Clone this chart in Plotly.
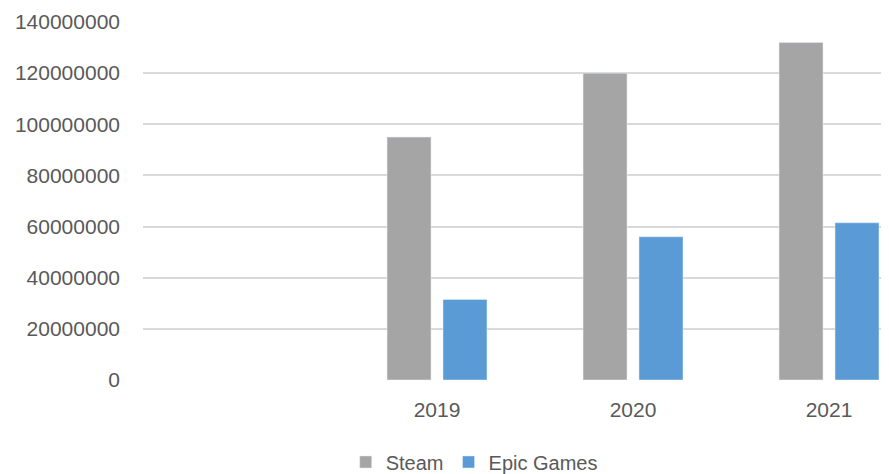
import plotly.graph_objects as go

categories = ["", "2019", "2020", "2021"]
steam = [None, 95000000, 120000000, 132000000]
epic = [None, 31500000, 56000000, 61500000]
y_ticks = [0, 20000000, 40000000, 60000000, 80000000, 100000000, 120000000, 140000000]

x_pos = list(range(len(categories)))
font = "Liberation Sans"

fig = go.Figure()
fig.add_trace(go.Bar(x=x_pos, y=steam, name="Steam", marker=dict(color="#a5a5a5")))
fig.add_trace(go.Bar(x=x_pos, y=epic, name="Epic Games", marker=dict(color="#5b9bd5")))

# page body has an 8px margin; figure is sized/placed to compensate
fig.update_layout(
    width=881, height=466,
    margin=dict(l=135, r=0, t=14, b=94, autoexpand=False),
    paper_bgcolor="white", plot_bgcolor="white",
    barmode="group", bargap=0.429, bargroupgap=0.214,
    font=dict(family=font, size=21, color="#595959"),
    showlegend=True,
    legend=dict(orientation="h", x=0.444, xanchor="center", y=-0.229, yanchor="middle",
                font=dict(size=20, color="#595959"), itemwidth=30, traceorder="normal"),
)
fig.update_xaxes(
    tickmode="array", tickvals=x_pos, ticktext=categories,
    range=[-0.5, 3.306], showgrid=False, showline=False, zeroline=False,
    ticks="", ticklabelstandoff=15, tickfont=dict(size=21, color="#595959"),
)
fig.update_yaxes(
    tickmode="array", tickvals=y_ticks, ticktext=[str(v) for v in y_ticks],
    range=[0, 140000000], showgrid=True, gridcolor="#d9d9d9", gridwidth=1.5,
    zeroline=False, showline=False, ticks="", ticklabelstandoff=22,
    tickfont=dict(size=21, color="#595959"),
)
fig.write_html("out.html")
